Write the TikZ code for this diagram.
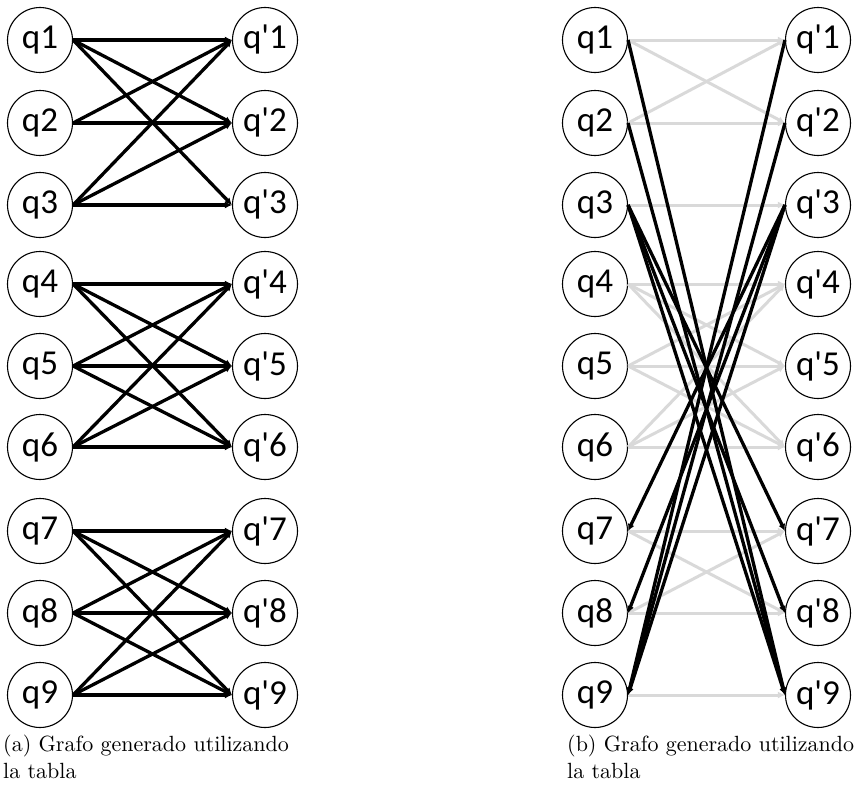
\documentclass[tikz,border=0pt]{standalone}
\usepackage{fontspec}
\newfontfamily\cf{Carlito}
\newfontfamily\capf{lmroman10-regular.otf}
\usetikzlibrary{arrows.meta}
\begin{document}
\begin{tikzpicture}[x=1pt,y=-1pt,
  qnode/.style={circle,draw,line width=1.1pt,minimum size=65pt,inner sep=0pt,font=\cf\fontsize{35}{35}\selectfont},
  blk/.style={line width=3.3pt,black,-{Latex[length=7pt,width=7pt]}},
  gry/.style={line width=3pt,color=black!15,-{Latex[length=7pt,width=7pt]}},
  captext/.style={anchor=base west,inner sep=0pt,font=\capf\fontsize{22}{27}\selectfont}]
\useasboundingbox (0,0) rectangle (860,795);
\foreach \i/\y in {1/40,2/123,3/205,4/284,5/366,6/447,7/531,8/613,9/695}{
  \node[qnode] (a\i) at (40,\y) {q\i};
  \node[qnode] (ap\i) at (265,\y) {q'\i};
  \node[qnode] (b\i) at (595,\y) {q\i};
  \node[qnode] (bp\i) at (818,\y) {q'\i};
}
% (a)
\foreach \s/\t in {1/1,1/2,1/3,2/1,2/2,3/1,3/2,3/3,
  4/4,4/5,4/6,5/4,5/5,5/6,6/4,6/5,6/6,
  7/7,7/8,7/9,8/7,8/8,8/9,9/7,9/8,9/9}{
  \draw[blk] (a\s.east) -- (ap\t.west);
}
% (b) grey
\foreach \s/\t in {1/1,1/2,2/1,2/2,3/3,
  4/4,4/5,4/6,5/4,5/5,5/6,6/4,6/5,6/6,
  7/7,7/8,8/7,8/8,9/9}{
  \draw[gry] (b\s.east) -- (bp\t.west);
}
% (b) black
\foreach \s/\t in {1/9,2/9,3/7,3/8,3/9}{
  \draw[blk] (b\s.east) -- (bp\t.west);
}
\foreach \s/\t in {1/9,2/9,3/7,3/8,3/9}{
  \draw[blk] (bp\s.west) -- (b\t.east);
}
\node[captext] (ca1) at (3,751) {(a) Grafo generado utilizando};
\node[captext] (ca2) at (3,778) {la tabla};
\node[captext] (cb1) at (567,751) {(b) Grafo generado utilizando};
\node[captext] (cb2) at (567,778) {la tabla};
\end{tikzpicture}
\end{document}
